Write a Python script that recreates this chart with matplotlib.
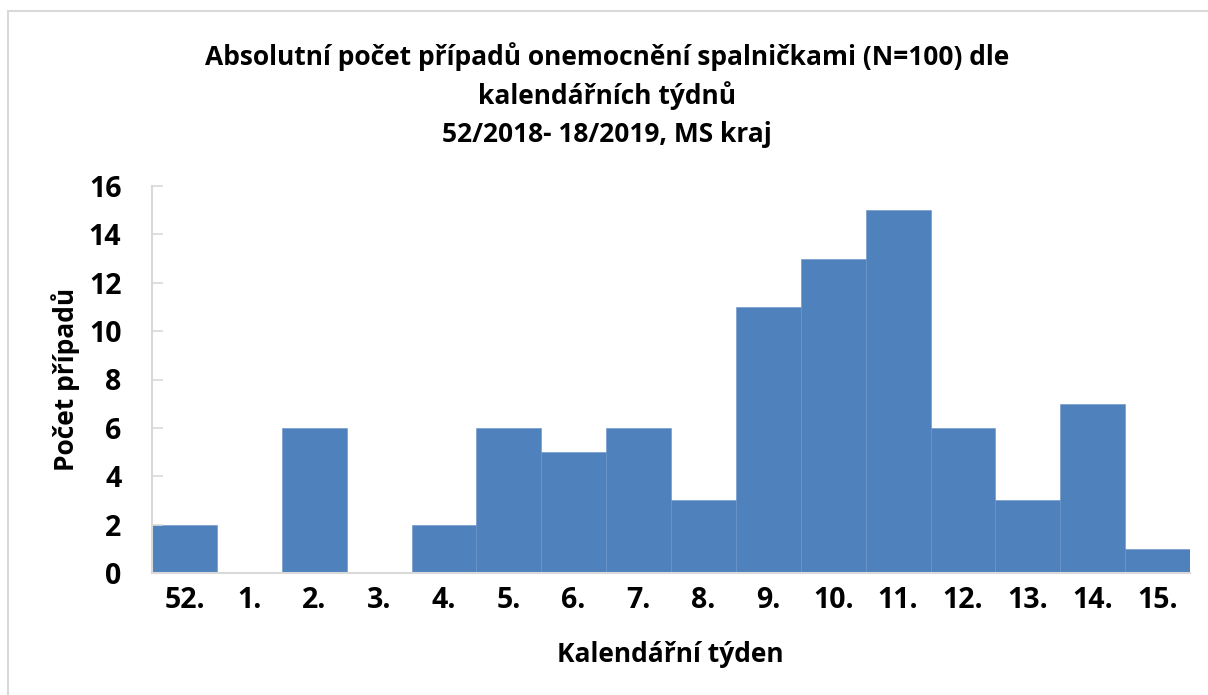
import matplotlib
matplotlib.use("Agg")
import matplotlib.pyplot as plt
import numpy as np
from matplotlib.patches import Rectangle

# data
weeks = ["52.", "1.", "2.", "3.", "4.", "5.", "6.", "7.", "8.",
         "9.", "10.", "11.", "12.", "13.", "14.", "15."]
cases = [2, 0, 6, 0, 2, 6, 5, 6, 3, 11, 13, 15, 6, 3, 7, 1]
yticks = [0, 2, 4, 6, 8, 10, 12, 14, 16]

title_lines = ["Absolutní počet případů onemocnění spalničkami (N=100) dle",
               "kalendářních týdnů",
               "52/2018- 18/2019, MS kraj"]

plt.rcParams['font.family'] = ['Open Sans', 'DejaVu Sans']
plt.rcParams['font.weight'] = 'bold'

W, H = 1208, 695
fig = plt.figure(figsize=(W / 100, H / 100), dpi=100)
ax = fig.add_axes([152 / W, 1 - 573 / H, (1190 - 152) / W, (573 - 186) / H])

# thin outer border like the chart frame
fig.patches.append(Rectangle((8 / W, -0.01), 1.1, 1 - 11 / H + 0.01,
                             transform=fig.transFigure, fill=False,
                             edgecolor='#D9D9D9', linewidth=1.5))

x = np.arange(len(weeks))
ax.bar(x, cases, width=1.0, color='#4F81BD', edgecolor='#6A92C6', linewidth=0.4)

ax.set_xlim(-0.5, len(weeks) - 0.5)
ax.set_ylim(0, 16)
ax.set_yticks(yticks)
ax.set_xticks(x)
ax.set_xticklabels(weeks)

for s in ['top', 'right']:
    ax.spines[s].set_visible(False)
for s in ['left', 'bottom']:
    ax.spines[s].set_color('#D9D9D9')
    ax.spines[s].set_linewidth(1.5)

ax.tick_params(axis='y', direction='in', length=8, width=1.2, color='#D9D9D9',
               labelsize=20.5, pad=22)
ax.tick_params(axis='x', length=0, labelsize=20.5, pad=9)
for lab in ax.get_xticklabels() + ax.get_yticklabels():
    lab.set_fontweight('bold')

ax.set_xlabel('Kalendářní týden', fontsize=19, fontweight='bold', va='center')
ax.set_ylabel('Počet případů', fontsize=19, fontweight='bold', va='center')
ax.xaxis.set_label_coords((670 - 152) / (1190 - 152), (573 - 655) / (573 - 186))
ax.yaxis.set_label_coords((66 - 152) / (1190 - 152), 0.5)

for line, yc in zip(title_lines, [57, 96, 135]):
    fig.text(607 / W, 1 - yc / H, line, ha='center', va='center', fontsize=19,
             fontweight='bold')

fig.savefig("out.png", dpi=100)
